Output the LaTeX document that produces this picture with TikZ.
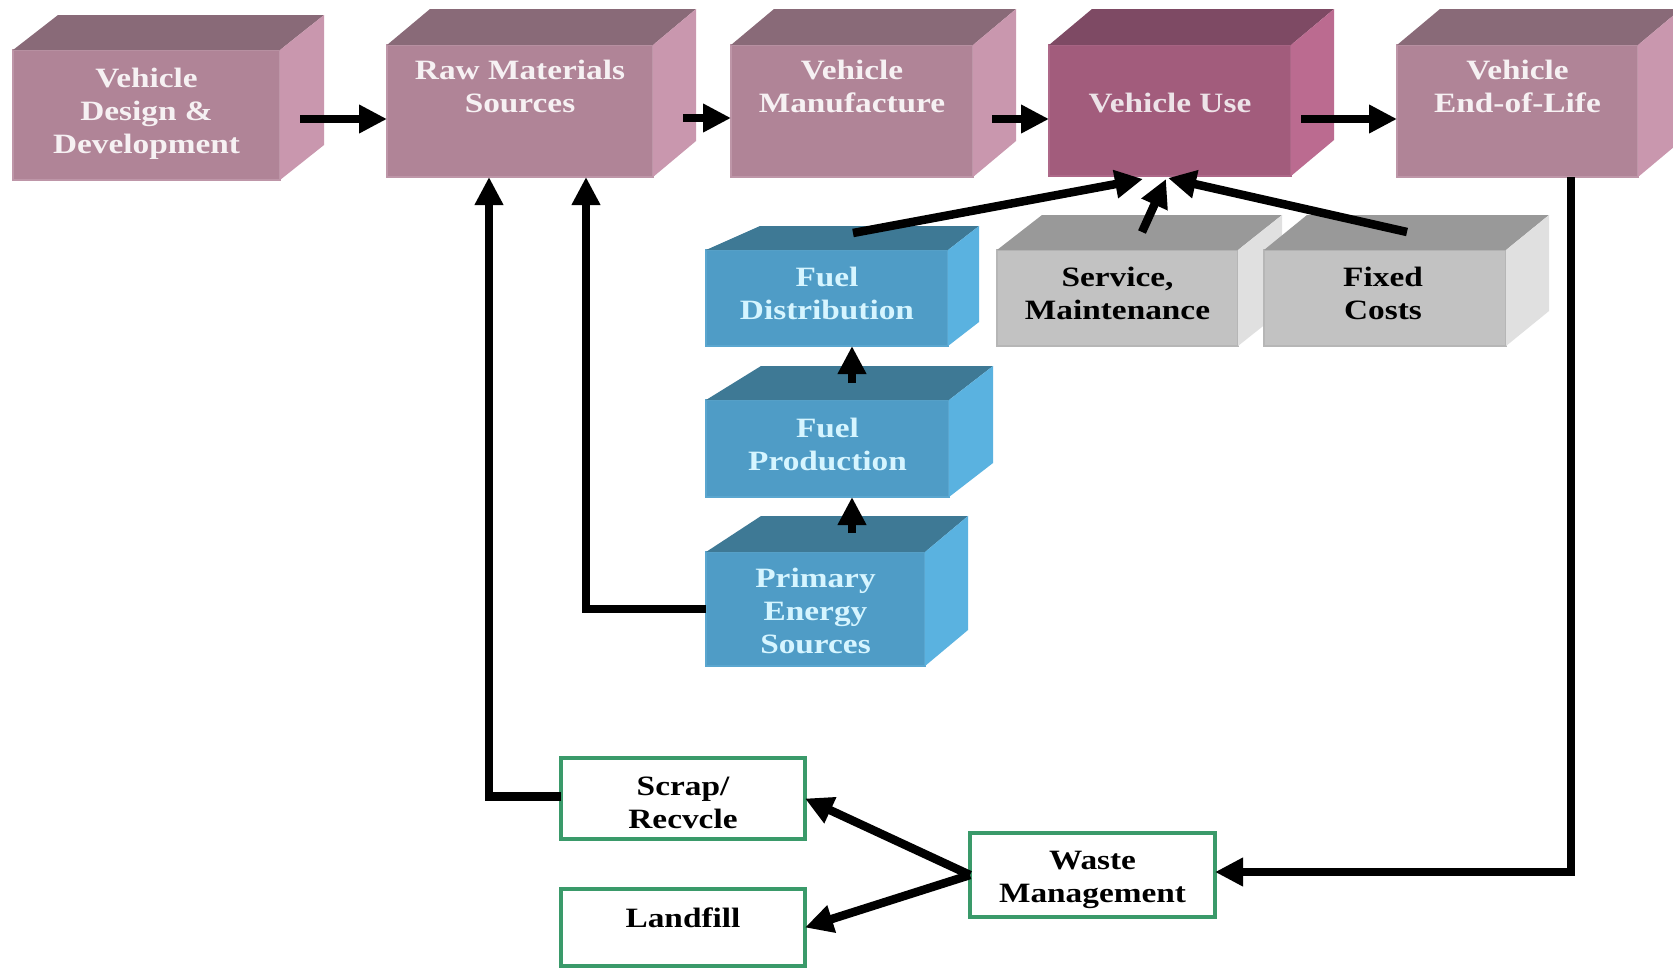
\documentclass[tikz,border=0pt]{standalone}
\usepackage{fontspec}
\setmainfont{Liberation Serif}[FakeStretch=1.19]
\usetikzlibrary{arrows.meta,calc}
\definecolor{mvF}{HTML}{B08497}
\definecolor{mvT}{HTML}{896A78}
\definecolor{mvS}{HTML}{C997AE}
\definecolor{mvE}{HTML}{BE96A8}
\definecolor{vuF}{HTML}{A25C7C}
\definecolor{vuT}{HTML}{7E4A64}
\definecolor{vuS}{HTML}{BB6B90}
\definecolor{vuE}{HTML}{AD6888}
\definecolor{blF}{HTML}{4F9CC6}
\definecolor{blT}{HTML}{3E7995}
\definecolor{blS}{HTML}{5AB2E0}
\definecolor{blE}{HTML}{5AA6CF}
\definecolor{grF}{HTML}{C2C2C2}
\definecolor{grT}{HTML}{999999}
\definecolor{grS}{HTML}{E0E0E0}
\definecolor{grE}{HTML}{B6B6B6}
\definecolor{gnB}{HTML}{3A9A6A}
\definecolor{mvTxt}{HTML}{F6F1F3}
\definecolor{vuTxt}{HTML}{EDE3E8}
\definecolor{blTxt}{HTML}{D6F5FF}
\tikzset{
  face/.style={inner sep=0pt, outer sep=0pt, line width=1.2pt},
  mvbox/.style={face, fill=mvF, draw=mvE},
  vubox/.style={face, fill=vuF, draw=vuE},
  blbox/.style={face, fill=blF, draw=blE},
  grbox/.style={face, fill=grF, draw=grE},
  gnbox/.style={inner sep=0pt, outer sep=0pt, fill=white, draw=gnB, line width=3.5pt},
  lbl/.style={font=\fontsize{28}{33}\selectfont\bfseries, align=center, inner sep=0pt},
  arr/.style={line width=8.5pt, -{Triangle[length=28pt,width=27pt]}, line join=miter},
}
\newcommand\cubesides[6]{%
  \fill[#5] (#1.north west) -- ++(#2,-#4) -- ($(#1.north east)+(#3,-#4)$) -- (#1.north east) -- cycle;
  \fill[#6] (#1.north east) -- ++(#3,-#4) -- ($(#1.south east)+(#3,-#4)$) -- (#1.south east) -- cycle;
}
\begin{document}
\begin{tikzpicture}[x=1pt,y=-1pt]
\useasboundingbox (0,0) rectangle (1673,967);
\clip (0,0) rectangle (1673,967);
\fill[white] (0,0) rectangle (1673,967);

% top row
\node[mvbox, minimum width=267pt, minimum height=130pt] (b1) at (146.5,115) {};
\cubesides{b1}{45}{44}{35}{mvT}{mvS}
\node[mvbox, minimum width=266pt, minimum height=132pt] (b2) at (520,111) {};
\cubesides{b2}{43}{43}{36}{mvT}{mvS}
\node[mvbox, minimum width=242pt, minimum height=132pt] (b3) at (852,111) {};
\cubesides{b3}{43}{43}{36}{mvT}{mvS}
\node[vubox, minimum width=242pt, minimum height=131pt] (vu) at (1170,110.5) {};
\cubesides{vu}{43}{43}{36}{vuT}{vuS}
\node[mvbox, minimum width=241pt, minimum height=132pt] (b5) at (1517.5,111) {};
\cubesides{b5}{43}{43}{36}{mvT}{mvS}

\node[lbl, text=mvTxt] at (146.5,114) {Vehicle\\Design \&\\Development};
\node[lbl, text=mvTxt] at (520,86) {Raw Materials\\Sources};
\node[lbl, text=mvTxt] at (852,86) {Vehicle\\Manufacture};
\node[lbl, text=vuTxt] at (1170,103) {Vehicle Use};
\node[lbl, text=mvTxt] at (1517.5,86) {Vehicle\\End-of-Life};

% blue column
\node[blbox, minimum width=242pt, minimum height=96pt] (fd) at (827,298) {};
\cubesides{fd}{54}{31}{24}{blT}{blS}
\node[blbox, minimum width=243pt, minimum height=97pt] (fp) at (827.5,448.5) {};
\cubesides{fp}{55}{44}{34}{blT}{blS}
\node[blbox, minimum width=219pt, minimum height=114pt] (pe) at (815.5,609) {};
\cubesides{pe}{55}{43}{36}{blT}{blS}

\node[lbl, text=blTxt] at (827,293) {Fuel\\Distribution};
\node[lbl, text=blTxt] at (827.5,444) {Fuel\\Production};
\node[lbl, text=blTxt] at (815.5,611) {Primary\\Energy\\Sources};

% gray boxes
\node[grbox, minimum width=241pt, minimum height=96pt] (sm) at (1117.5,298) {};
\cubesides{sm}{45}{44}{35}{grT}{grS}
\node[grbox, minimum width=242pt, minimum height=96pt] (fc) at (1385,298) {};
\cubesides{fc}{43}{43}{35}{grT}{grS}
\node[lbl] at (1117.5,293) {Service,\\Maintenance};
\node[lbl] at (1383,293) {Fixed\\Costs};

% green boxes
\node[gnbox, minimum width=244pt, minimum height=81pt] (sr) at (683,798.5) {};
\node[gnbox, minimum width=244pt, minimum height=77pt] (lf) at (683,927.5) {};
\node[gnbox, minimum width=245pt, minimum height=84pt] (wm) at (1092.5,875) {};
\node[lbl] at (683,803) {Scrap/\\Recvcle};
\node[lbl] at (683,918) {Landfill};
\node[lbl] at (1092.5,880) {Waste\\Management};

% connectors
\draw[arr] ([xshift=20pt,yshift=-4pt]b1.east) -- ([yshift=-8pt]b2.west);
\draw[arr] ([xshift=30pt,yshift=-7pt]b2.east) -- ([yshift=-7pt]b3.west);
\draw[arr] ([xshift=19pt,yshift=-8pt]b3.east) -- ([yshift=-8.5pt]vu.west);
\draw[arr] ([xshift=10pt,yshift=-8.5pt]vu.east) -- ([yshift=-8pt]b5.west);

\draw[arr] ([yshift=2pt]sr.west) -| ([xshift=-31pt]b2.south);
\draw[arr] (pe.west) -| ([xshift=66pt]b2.south);

\draw[arr] ([xshift=24.5pt,yshift=17pt]fp.north) -- ([xshift=25pt]fd.south);
\draw[arr] ([xshift=36.5pt,yshift=19pt]pe.north) -- ([xshift=24.5pt]fp.south);

\draw[arr] ([xshift=26pt,yshift=17pt]fd.north) -- ([xshift=-27pt,yshift=-3pt]vu.south);
\draw[arr] ([xshift=24.5pt,yshift=18pt]sm.north) -- ([xshift=-4pt,yshift=-3pt]vu.south);
\draw[arr] ([xshift=22pt,yshift=18pt]fc.north) -- ([xshift=-2pt,yshift=-2pt]vu.south);

\draw[arr] ([xshift=53.5pt]b5.south) |- ([yshift=3pt]wm.east);
\draw[arr] (wm.west) -- (sr.east);
\draw[arr] (wm.west) -- (lf.east);
\end{tikzpicture}
\end{document}
